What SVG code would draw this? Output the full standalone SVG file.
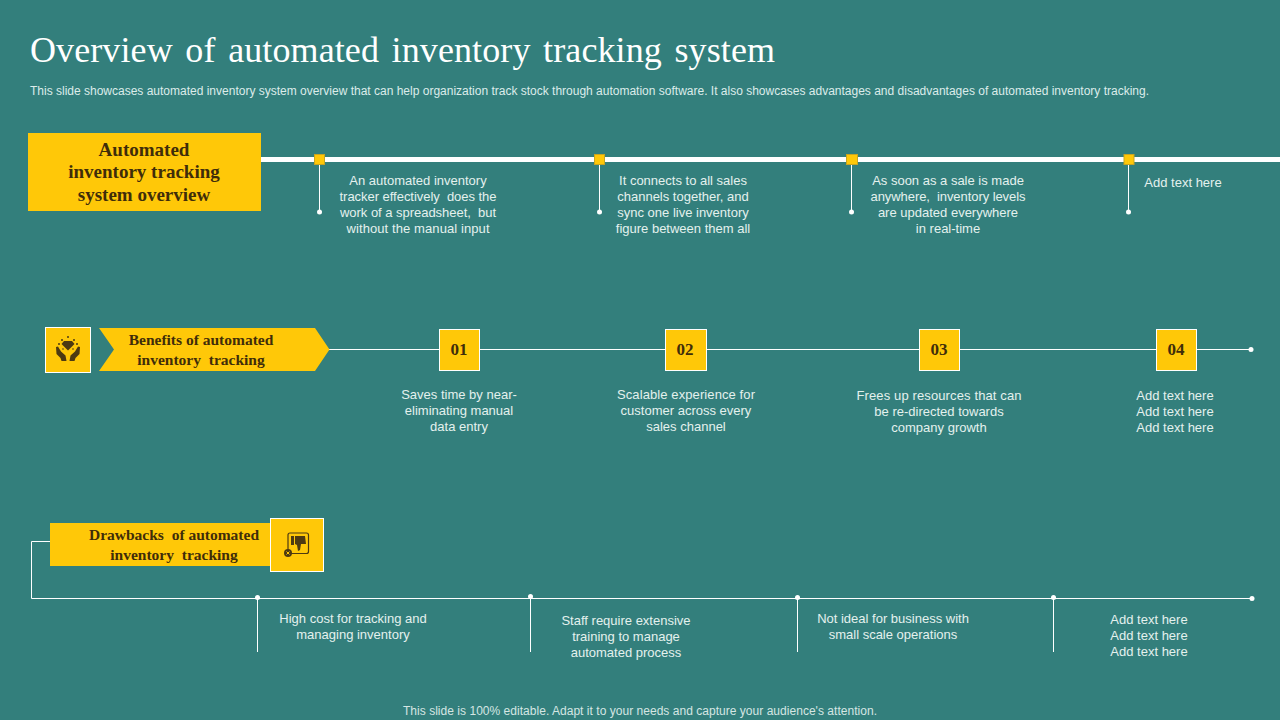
<svg xmlns="http://www.w3.org/2000/svg" width="1280" height="720" viewBox="0 0 1280 720">
<style>
.t{font-family:"Liberation Serif","Times New Roman",serif;font-weight:bold;fill:#3f2d0a;text-anchor:middle;white-space:pre}
.b{font-family:"Liberation Sans",Arial,sans-serif;font-size:13px;fill:#e4f1ee;text-anchor:middle;white-space:pre}
.l{stroke:#fff;stroke-width:1;fill:none}
.d{fill:#fff}
.y{fill:#ffc808}
.n{fill:#ffc808;stroke:#fff;stroke-width:1}
.m{fill:#ffc808;stroke:#c9a520;stroke-width:1}
.num{font-family:"Liberation Serif",serif;font-weight:bold;font-size:17px;fill:#3f2d0a;text-anchor:middle}
.i{fill:#4d3a12}
</style>
<rect width="1280" height="720" fill="#337f7c"/>
<g id="header">
<text x="30" y="62" font-family="Liberation Serif,serif" font-size="36" fill="#fff" word-spacing="3.500" textLength="745" lengthAdjust="spacing">Overview of automated inventory tracking system</text>
<text x="30" y="94.500" font-family="Liberation Sans,sans-serif" font-size="12" fill="#dcecea" textLength="1119" lengthAdjust="spacing">This slide showcases automated inventory system overview that can help organization track stock through automation software. It also showcases advantages and disadvantages of automated inventory tracking.</text>
</g>
<g id="connectors">
<rect x="261" y="157" width="1019" height="5" fill="#fff"/>
<path class="l" d="M319.500 160V212M599.500 160V212M851.500 160V212M1128.500 160V212"/>
<circle class="d" cx="319.500" cy="212" r="2.500"/><circle class="d" cx="599.500" cy="212" r="2.500"/><circle class="d" cx="851.500" cy="212" r="2.500"/><circle class="d" cx="1128.500" cy="212" r="2.500"/>
<path class="l" d="M329 349.500H1251"/>
<circle class="d" cx="1251" cy="349.500" r="2.500"/>
<path class="l" d="M50 541.500H31.500V598.500H1252"/>
<path class="l" d="M257.500 598V652M530.500 597V652M797.500 598V652M1053.500 598V652"/>
<circle class="d" cx="257.500" cy="597.500" r="2.500"/><circle class="d" cx="530.500" cy="596.500" r="2.500"/><circle class="d" cx="797.500" cy="597.500" r="2.500"/><circle class="d" cx="1053.500" cy="597.500" r="2.500"/><circle class="d" cx="1252" cy="598.500" r="2.500"/>
</g>
<g id="overview">
<rect class="y" x="28" y="133" width="233" height="78"/>
<text class="t" font-size="19"><tspan x="144" y="156">Automated</tspan><tspan x="144" y="178">inventory tracking</tspan><tspan x="144" y="201">system overview</tspan></text>
</g>
<g id="m1"><rect class="m" x="314.500" y="154.500" width="10" height="10"/></g>
<g id="m2"><rect class="m" x="594.500" y="154.500" width="10" height="10"/></g>
<g id="m3"><rect class="m" x="846.500" y="154.500" width="11" height="10"/></g>
<g id="m4"><rect class="m" x="1124" y="154.500" width="10" height="10"/></g>
<g id="ot1"><text class="b"><tspan x="418" y="185">An automated inventory</tspan><tspan x="418" y="201" textLength="157">tracker effectively  does the</tspan><tspan x="418" y="217" textLength="156">work of a spreadsheet,  but</tspan><tspan x="418" y="233" textLength="143">without the manual input</tspan></text></g>
<g id="ot2"><text class="b"><tspan x="683" y="185">It connects to all sales</tspan><tspan x="683" y="201">channels together, and</tspan><tspan x="683" y="217">sync one live inventory</tspan><tspan x="683" y="233">figure between them all</tspan></text></g>
<g id="ot3"><text class="b"><tspan x="948" y="185">As soon as a sale is made</tspan><tspan x="948" y="201" textLength="155">anywhere,  inventory levels</tspan><tspan x="948" y="217">are updated everywhere</tspan><tspan x="948" y="233">in real-time</tspan></text></g>
<g id="ot4"><text class="b" x="1183" y="187">Add text here</text></g>
<g id="benefits-icon">
<rect class="n" x="45.500" y="327.500" width="45" height="45"/>
<path class="i" d="M64 341h8l2.500 3-6.500 6.500-6.500-6.500z"/>
<circle class="i" cx="68" cy="337" r="1"/><circle class="i" cx="62" cy="340" r="1"/><circle class="i" cx="74" cy="340" r="1"/><circle class="i" cx="59" cy="344" r="1"/><circle class="i" cx="77" cy="344" r="1"/><circle class="i" cx="63" cy="349" r=".8"/><circle class="i" cx="73" cy="349" r=".8"/>
<path class="i" d="M56 347l2-.5 3 5 4.500 4 1 5.500h-5l-1-3-4-4zM80 347l-2-.5-3 5-4.500 4-1 5.500h5l1-3 4-4z"/>
</g>
<g id="benefits">
<path class="y" d="M99 328H315L329.500 349.500 315 371H99L114 349.500z"/>
<text class="t" font-size="15.500"><tspan x="201" y="345">Benefits of automated</tspan><tspan x="201" y="365">inventory  tracking</tspan></text>
</g>
<g id="n01"><rect class="n" x="439.500" y="329.500" width="40" height="41"/><text class="num" x="459" y="355">01</text></g>
<g id="n02"><rect class="n" x="665.500" y="329.500" width="41" height="41"/><text class="num" x="685" y="355">02</text></g>
<g id="n03"><rect class="n" x="919.500" y="329.500" width="40" height="41"/><text class="num" x="939" y="355">03</text></g>
<g id="n04"><rect class="n" x="1156.500" y="329.500" width="40" height="41"/><text class="num" x="1176" y="355">04</text></g>
<g id="bt1"><text class="b"><tspan x="459" y="399">Saves time by near-</tspan><tspan x="459" y="415">eliminating manual</tspan><tspan x="459" y="431">data entry</tspan></text></g>
<g id="bt2"><text class="b"><tspan x="686" y="399" textLength="138">Scalable experience for</tspan><tspan x="686" y="415">customer across every</tspan><tspan x="686" y="431">sales channel</tspan></text></g>
<g id="bt3"><text class="b"><tspan x="939" y="400" textLength="165">Frees up resources that can</tspan><tspan x="939" y="416">be re-directed towards</tspan><tspan x="939" y="432">company growth</tspan></text></g>
<g id="bt4"><text class="b"><tspan x="1175" y="400">Add text here</tspan><tspan x="1175" y="416">Add text here</tspan><tspan x="1175" y="432">Add text here</tspan></text></g>
<g id="drawbacks">
<rect class="y" x="50" y="523" width="221" height="43"/>
<text class="t" font-size="15.500"><tspan x="174" y="540">Drawbacks  of automated</tspan><tspan x="174" y="560">inventory  tracking</tspan></text>
</g>
<g id="drawbacks-icon">
<rect class="n" x="270.500" y="518.500" width="53" height="53"/>
<rect x="288" y="533" width="20.500" height="20.500" rx="2" fill="none" stroke="#4d3a12" stroke-width="1.200"/>
<path class="i" d="M291 536h3v9h-3zM295 536h10l1 8h-5l-1 6-2 1-1-6-2-1z"/>
<circle class="i" cx="288" cy="553" r="4"/>
<path d="M286.500 551.500l3 3m0-3l-3 3" stroke="#ffc808" stroke-width="1"/>
</g>
<g id="dt1"><text class="b"><tspan x="353" y="623">High cost for tracking and</tspan><tspan x="353" y="639">managing inventory</tspan></text></g>
<g id="dt2"><text class="b"><tspan x="626" y="625">Staff require extensive</tspan><tspan x="626" y="641">training to manage</tspan><tspan x="626" y="657">automated process</tspan></text></g>
<g id="dt3"><text class="b"><tspan x="893" y="623">Not ideal for business with</tspan><tspan x="893" y="639">small scale operations</tspan></text></g>
<g id="dt4"><text class="b"><tspan x="1149" y="624">Add text here</tspan><tspan x="1149" y="640">Add text here</tspan><tspan x="1149" y="656">Add text here</tspan></text></g>
<g id="footer"><text x="640" y="715" font-family="Liberation Sans,sans-serif" font-size="12" fill="#d5e6e3" text-anchor="middle" textLength="474">This slide is 100% editable. Adapt it to your needs and capture your audience's attention.</text></g>
</svg>
